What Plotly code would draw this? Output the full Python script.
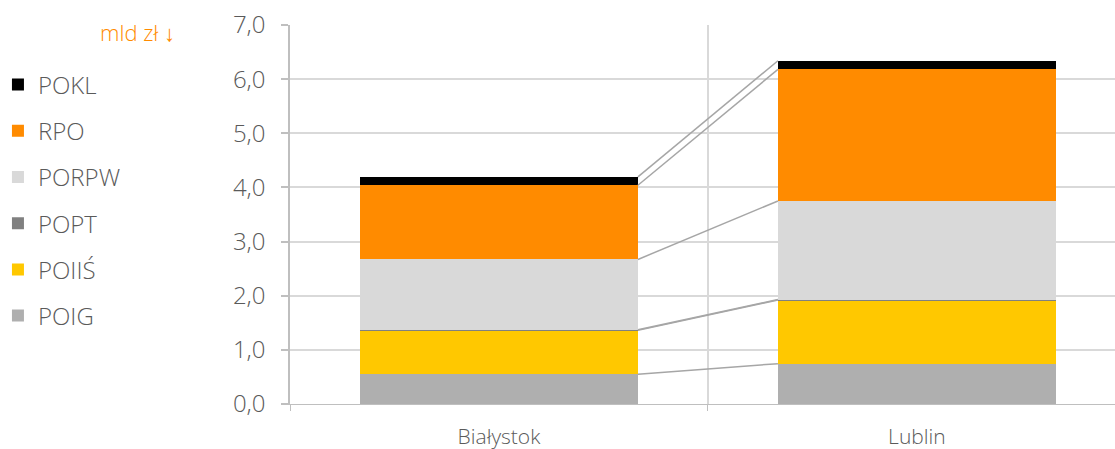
import plotly.graph_objects as go

# Regions (x categories)
regions = ["Białystok", "Lublin"]

# Funding by programme, mld zł (stacked bottom to top)
programmes = ["POIG", "POIIŚ", "POPT", "PORPW", "RPO", "POKL"]
poig = [0.55, 0.745]
poiis = [0.81, 1.175]
popt = [0.01, 0.01]
porpw = [1.30, 1.82]
rpo = [1.37, 2.43]
pokl = [0.155, 0.16]
series = [poig, poiis, popt, porpw, rpo, pokl]

colors = ["#afafaf", "#ffc800", "#808080", "#d9d9d9", "#ff8b00", "#000000"]

# Axis ticks
y_ticks = [0, 1, 2, 3, 4, 5, 6, 7]

BAR_W = 0.665
TEXT = "#5a5a5a"
FONT = "Open Sans"

xs = list(range(len(regions)))
fig = go.Figure()

n = len(programmes)
for i, (name, vals, col) in enumerate(zip(programmes, series, colors)):
    fig.add_trace(go.Bar(
        x=xs, y=vals, name=name, width=BAR_W,
        marker=dict(color=col, line=dict(width=0)),
        legendgroup=name, legendrank=n - i,
    ))

# Connector lines joining the top of each segment across the two bars
cum = [0.0, 0.0]
for vals in series:
    cum = [cum[i] + vals[i] for i in range(2)]
    fig.add_trace(go.Scatter(
        x=[xs[0] + BAR_W / 2, xs[1] - BAR_W / 2], y=list(cum),
        mode="lines", line=dict(color="#a6a6a6", width=1.5),
        showlegend=False, hoverinfo="skip",
    ))

fig.update_layout(
    width=1115, height=449,
    margin=dict(l=290, r=0, t=25, b=45, autoexpand=False),
    paper_bgcolor="white", plot_bgcolor="white",
    barmode="stack", bargap=0,
    separators=", ",
    font=dict(family=FONT, color=TEXT, size=20, weight=300),
    legend=dict(
        traceorder="grouped",
        x=-0.354, xanchor="left", y=0.901, yanchor="top",
        font=dict(size=24, color=TEXT, family=FONT, weight=300),
        tracegroupgap=12, itemwidth=30,
        bgcolor="rgba(0,0,0,0)",
    ),
    xaxis=dict(
        range=[-0.5, 1.474], tickvals=xs, ticktext=regions,
        ticks="", showgrid=False, zeroline=False, automargin=False,
        showline=True, linecolor="#bfbfbf", linewidth=1,
        tickfont=dict(size=21, color=TEXT),
        ticklabelstandoff=14,
        minor=dict(tickvals=[-0.5, 0.5], ticks="outside", ticklen=6,
                   tickcolor="#bfbfbf", showgrid=True,
                   gridcolor="#d9d9d9", gridwidth=1.5),
    ),
    yaxis=dict(
        range=[0, 7], tickvals=y_ticks, tickformat=".1f",
        ticks="outside", ticklen=7, tickcolor="#bfbfbf", tickwidth=1.5,
        showline=True, linecolor="#bfbfbf", linewidth=1.5, automargin=False,
        showgrid=True, gridcolor="#d9d9d9", gridwidth=1.5, zeroline=False,
        tickfont=dict(size=24, color=TEXT),
        ticklabelstandoff=11,
    ),
    annotations=[dict(
        text="mld zł ↓", xref="paper", yref="paper",
        x=-0.137, y=1.0, xanchor="right", yanchor="middle",
        yshift=-7, showarrow=False,
        font=dict(size=22, color="#ff8b00", family=FONT, weight=300),
    )],
)

fig.write_html("out.html")
